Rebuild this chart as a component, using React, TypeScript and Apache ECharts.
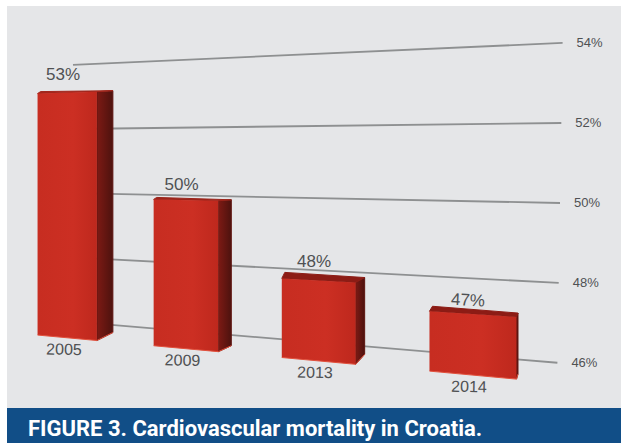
import React, { useEffect, useRef } from "react";
import * as echarts from "echarts";

const categories = ["2005", "2009", "2013", "2014"];
// Heights; the printed labels are these values rounded.
const values = [53.26, 49.98, 47.83, 47.18];
const gridValues = [46, 48, 50, 52, 54];
const caption = "FIGURE 3. Cardiovascular mortality in Croatia.";

// Perspective of the drawing (style, not data)
const floorValue = 45.6;
const halfBar = 0.26;
const sideDepth = [16, 13, 9, 1.5];
const topLift = [1, 1, 5, 4];
const sideFootLift = [8, 6, 10, 5];
const labelLift = [18, 15.5, 19, 14];
const topColors = ["#a3261c", "#9c241a", "#8c1c15", "#8c1c15"];
const labelFont = "Liberation Sans, Arial, sans-serif";

const screenX = (t: number) => 67 + 114 * t + 3.25 * t * t + 1.25 * t * t * t;
const backY = (x: number, n: number) =>
  194 + 0.0201 * (x - 113) - n * (32.75 + 0.0162 * (x - 113));
const frontY = (x: number, v: number) =>
  331.6 + 0.092 * x - (v - floorValue) * (32 + 0.0162 * (x - 67));

function renderGrid(_: any, api: any) {
  const v = api.value(1);
  const unit = api.size([0, 1])[1];
  const n = (api.coord([0, 50])[1] - api.coord([0, v])[1]) / unit;
  const xL = 73;
  const xR = 560 + n * 0.65;
  return {
    type: "group",
    children: [
      {
        type: "line",
        shape: { x1: xL, y1: backY(xL, n), x2: xR, y2: backY(xR, n) },
        style: { stroke: "#8e9091", lineWidth: 1.8 },
      },
      {
        type: "text",
        x: xR + 27,
        y: backY(xR, n),
        style: {
          text: `${v}%`,
          align: "center",
          verticalAlign: "middle",
          fill: "#4f5153",
          font: `13px ${labelFont}`,
        },
      },
    ],
  };
}

function renderBar(params: any, api: any) {
  const i = params.dataIndex;
  const v = api.value(1);
  const px = api.coord([i, v])[0];
  const px0 = api.coord([0, v])[0];
  const band = api.size([1, 0])[0];
  const t = (px - px0) / band;
  const cx = screenX(t);
  const xl = screenX(t - halfBar);
  const xr = screenX(t + halfBar);
  const d = sideDepth[i];
  const tl: number[] = [xl, frontY(xl, v)];
  const tr: number[] = [xr, frontY(xr, v)];
  const bl: number[] = [xl, frontY(xl, floorValue)];
  const br: number[] = [xr, frontY(xr, floorValue)];
  const lift = topLift[i];
  const btr = [xr + d, tr[1] - lift];
  const btl = [xl + 3, tl[1] - lift - 1];
  const bbr = [xr + d, br[1] - sideFootLift[i]];
  return {
    type: "group",
    children: [
      {
        type: "polygon",
        shape: { points: [tr, btr, bbr, br] },
        style: {
          fill: new echarts.graphic.LinearGradient(0, 0, 1, 0, [
            { offset: 0, color: "#7d1a14" },
            { offset: 1, color: "#4d120e" },
          ]),
          stroke: "#5e1510",
          lineWidth: 1,
          lineJoin: "round",
        },
      },
      {
        type: "polygon",
        shape: { points: [tl, btl, btr, tr] },
        style: { fill: topColors[i], stroke: topColors[i], lineWidth: 1, lineJoin: "round" },
      },
      {
        type: "polygon",
        shape: { points: [tl, tr, br, bl] },
        style: {
          fill: new echarts.graphic.LinearGradient(0, 0, 1, 0, [
            { offset: 0, color: "#c72d21" },
            { offset: 0.6, color: "#cc2f23" },
            { offset: 1, color: "#be281d" },
          ]),
        },
      },
      {
        type: "polyline",
        shape: { points: [bl, br, bbr] },
        style: { fill: "none", stroke: "#e2503c", lineWidth: 1 },
      },
      {
        type: "text",
        x: cx - 4,
        y: frontY(cx, v) - labelLift[i],
        rotation: i === 3 ? -0.05 : 0,
        style: {
          text: `${Math.round(v)}%`,
          align: "center",
          verticalAlign: "middle",
          fill: "#4f5153",
          font: `17px ${labelFont}`,
        },
      },
      {
        type: "text",
        x: cx - 3,
        y: frontY(cx, floorValue) + 11.5,
        rotation: -0.02,
        style: {
          text: categories[i],
          align: "center",
          verticalAlign: "middle",
          fill: "#4f5153",
          font: `16px ${labelFont}`,
        },
      },
    ],
  };
}

export default function App() {
  const ref = useRef<HTMLDivElement>(null);
  useEffect(() => {
    const chart = echarts.init(ref.current!, undefined, { renderer: "svg" });
    chart.setOption({
      animation: false,
      backgroundColor: "#ffffff",
      grid: { left: 0, right: 0, top: 0, bottom: 0 },
      title: {
        text: caption,
        left: 28,
        top: 417,
        padding: 0,
        textStyle: {
          color: "#ffffff",
          fontFamily: "Roboto",
          fontWeight: "bold",
          fontSize: 22,
          lineHeight: 22,
        },
      },
      graphic: [
        {
          type: "rect",
          z: -10,
          shape: { x: 7, y: 6, width: 614, height: 402 },
          style: { fill: "#e5e6e8" },
        },
        {
          type: "rect",
          z: -10,
          shape: { x: 7, y: 408, width: 614, height: 35 },
          style: { fill: "#114e87" },
        },
      ],
      xAxis: { type: "category", data: categories, show: false },
      yAxis: { type: "value", min: 44, max: 56, interval: 2, show: false },
      series: [
        {
          type: "custom",
          coordinateSystem: "cartesian2d",
          renderItem: renderGrid,
          encode: { x: 0, y: 1 },
          clip: false,
          data: gridValues.map((v) => [0, v]),
          z: 2,
        },
        {
          type: "custom",
          coordinateSystem: "cartesian2d",
          renderItem: renderBar,
          encode: { x: 0, y: 1 },
          clip: false,
          data: values.map((v, i) => [i, v]),
          z: 3,
        },
      ],
    });
    return () => chart.dispose();
  }, []);
  return (
    <div
      ref={ref}
      style={{ position: "fixed", left: 0, top: 0, width: 621, height: 443 }}
    />
  );
}
